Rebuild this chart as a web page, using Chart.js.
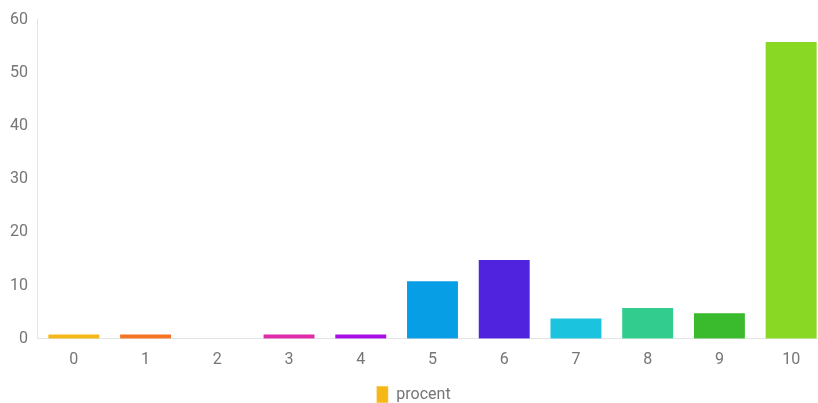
<!DOCTYPE html>
<html>
<head>
<meta charset="utf-8">
<script src="https://cdn.jsdelivr.net/npm/chart.js@4/dist/chart.umd.min.js"></script>
<style>
  html, body { margin: 0; padding: 0; overflow: hidden; background: #fff; }
  #wrap { width: 832px; height: 413px; }
</style>
</head>
<body>
<div id="wrap"><canvas id="chart"></canvas></div>
<script>
const labels = ["0", "1", "2", "3", "4", "5", "6", "7", "8", "9", "10"];
const values = [1, 1, 0, 1, 1, 11, 15, 4, 6, 5, 56];
const colors = ["#f5b816", "#f57423", "#e8312e", "#e02ba8", "#a80fe6", "#079ee6", "#5023df", "#1bc3df", "#33cc8f", "#3aba2d", "#88d824"];
const yTicks = [0, 10, 20, 30, 40, 50, 60];

Chart.defaults.font.family = "Roboto";
Chart.defaults.font.size = 16;
Chart.defaults.color = "#757575";

const ctx = document.getElementById("chart").getContext("2d");
const chart = new Chart(ctx, {
  type: "bar",
  data: {
    labels: labels,
    datasets: [
      {
        label: "procent",
        data: values,
        backgroundColor: colors,
        borderColor: "rgba(255,255,255,0.5)",
        borderWidth: 1,
        categoryPercentage: 0.82,
      },
    ],
  },
  options: {
    responsive: true,
    maintainAspectRatio: false,
    animation: false,
    layout: {
      padding: { top: 8, right: 5, left: 0, bottom: 0 },
    },
    scales: {
      y: {
        min: 0,
        max: 60,
        afterBuildTicks: (axis) => {
          axis.ticks = yTicks.map((v) => ({ value: v }));
        },
        grid: { display: false, drawTicks: false },
        border: { display: true, color: "#e4e4e4" },
        ticks: { padding: 10 },
      },
      x: {
        grid: { display: false, drawTicks: false },
        border: { display: true, color: "#e4e4e4" },
        ticks: { padding: 12 },
      },
    },
    plugins: {
      legend: {
        position: "bottom",
        labels: {
          boxWidth: 12,
          boxHeight: 17,
          padding: 4,
          generateLabels: (c) => [
            {
              text: "procent",
              fillStyle: colors[0],
              strokeStyle: "rgba(255,255,255,0.5)",
              lineWidth: 1,
              fontColor: "#757575",
              datasetIndex: 0,
            },
          ],
        },
      },
      tooltip: { enabled: false },
    },
  },
});
</script>
</body>
</html>
